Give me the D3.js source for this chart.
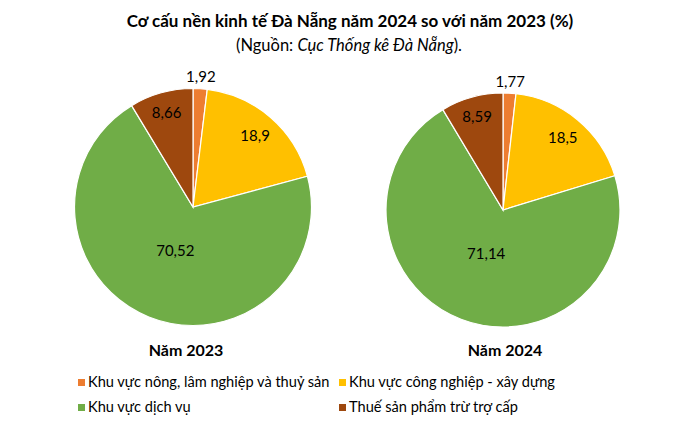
<!DOCTYPE html>
<html>
<head>
<meta charset="utf-8">
<script src="https://cdn.jsdelivr.net/npm/d3@7"></script>
<style>
  body { margin: 0; background: #fff; }
  svg { font-family: Lato, "Open Sans", sans-serif; }
</style>
</head>
<body>
<div id="chart"></div>
<script>
var sectors = ["Khu vực nông, lâm nghiệp và thuỷ sản", "Khu vực công nghiệp - xây dựng", "Khu vực dịch vụ", "Thuế sản phẩm trừ trợ cấp"];
var years = ["Năm 2023", "Năm 2024"];
var values2023 = [1.92, 18.9, 70.52, 8.66];
var values2024 = [1.77, 18.5, 71.14, 8.59];
var labels2023 = ["1,92", "18,9", "70,52", "8,66"];
var labels2024 = ["1,77", "18,5", "71,14", "8,59"];

var colors = ["#ED7D31", "#FFC000", "#70AD47", "#9E480E"];
// label distance from centre, as share of radius (Excel best fit look)
var labelRadius = [1.1, 0.8, 0.4, 0.83];

var w = 700, h = 429;

var svg = d3.select("#chart")
  .append("svg")
  .attr("width", w)
  .attr("height", h);

var color = d3.scaleOrdinal().domain(sectors).range(colors);

// title
svg.append("text")
  .attr("x", 350).attr("y", 27)
  .attr("text-anchor", "middle")
  .style("font-size", "17px").style("font-weight", "bold")
  .text("Cơ cấu nền kinh tế Đà Nẵng năm 2024 so với năm 2023 (%)");

var sub = svg.append("text")
  .attr("x", 349).attr("y", 51)
  .attr("text-anchor", "middle")
  .style("font-size", "16.5px");
sub.append("tspan").text("(Nguồn: ");
sub.append("tspan").style("font-style", "italic").text("Cục Thống kê Đà Nẵng");
sub.append("tspan").text(").");

var pie = d3.pie().sort(null).value(function(d) { return d.value; });

var charts = [
  {cx: 193, cy: 207, r: 118.5, values: values2023, labels: labels2023, title: years[0], tx: 186},
  {cx: 503, cy: 210, r: 117, values: values2024, labels: labels2024, title: years[1], tx: 505}
];

charts.forEach(function(c) {
  var data = c.values.map(function(v, i) { return {name: sectors[i], value: v, label: c.labels[i], idx: i}; });
  var arc = d3.arc().innerRadius(0).outerRadius(c.r);
  var g = svg.append("g").attr("transform", "translate(" + c.cx + "," + c.cy + ")");

  var arcs = pie(data);

  g.selectAll(".slice")
    .data(arcs)
    .enter().append("path")
    .attr("class", "slice")
    .attr("d", arc)
    .attr("fill", function(d) { return color(d.data.name); })
    .attr("stroke", "#fff")
    .attr("stroke-width", 1.2);

  g.selectAll(".lbl")
    .data(arcs)
    .enter().append("text")
    .attr("class", "lbl")
    .attr("transform", function(d) {
      var rr = c.r * labelRadius[d.data.idx];
      var a = (d.startAngle + d.endAngle) / 2;
      return "translate(" + (Math.sin(a) * rr) + "," + (-Math.cos(a) * rr) + ")";
    })
    .attr("text-anchor", "middle")
    .attr("dy", "0.35em")
    .style("font-size", "15px")
    .text(function(d) { return d.data.label; });

  svg.append("text")
    .attr("x", c.tx).attr("y", 356)
    .attr("text-anchor", "middle")
    .style("font-size", "16px").style("font-weight", "bold")
    .text(c.title);
});

// legend
var legendPos = [[78, 387], [339, 387], [78, 412], [339, 412]];
var legend = svg.selectAll(".legend")
  .data(sectors)
  .enter().append("g")
  .attr("class", "legend")
  .attr("transform", function(d, i) { return "translate(" + legendPos[i][0] + "," + legendPos[i][1] + ")"; });

legend.append("rect")
  .attr("x", 0).attr("y", -8)
  .attr("width", 7).attr("height", 7)
  .attr("fill", function(d) { return color(d); });

legend.append("text")
  .attr("x", 10).attr("y", 0)
  .style("font-size", "14.6px")
  .text(function(d) { return d; });
</script>
</body>
</html>
